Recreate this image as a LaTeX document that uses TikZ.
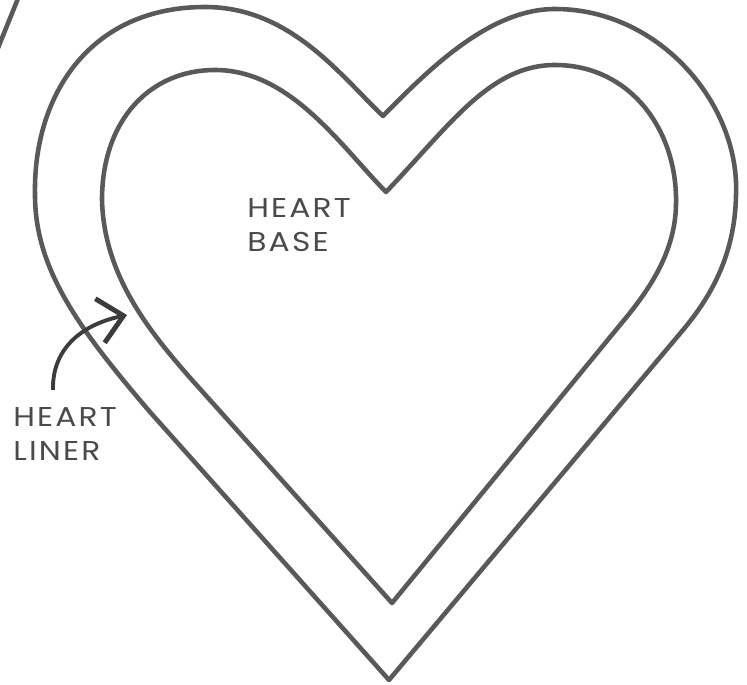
\documentclass[tikz,border=0pt]{standalone}
\usepackage{fontspec}
\setmainfont{Poppins}[LetterSpace=8, FakeStretch=1.15]
\usepackage{xcolor}
\usepackage{tikz}
\usetikzlibrary{arrows.meta}
\definecolor{outlinegray}{HTML}{58595B}
\definecolor{labelgray}{HTML}{4A4A4A}
\definecolor{arrowgray}{HTML}{3C3C3C}

\begin{document}
\begin{tikzpicture}[
  x=0.02cm, y=-0.02cm,
  outline/.style={draw=outlinegray, line width=2.6pt, line join=round, line cap=round},
  labeltext/.style={align=left, inner sep=0pt, text=labelgray, font=\fontsize{15.5}{19.8}\selectfont},
  pointer/.style={draw=arrowgray, line width=2.2pt, -{Straight Barb[length=4.8mm, width=9mm, line width=2.8pt]}}
]
  \useasboundingbox (0,0) rectangle (747,685);

  \draw[outline] (-2,48) -- (19,-4);

  \draw[outline] (383,116) .. controls (430,68) and (490,9) .. (555,9)
    .. controls (660,9) and (740,105) .. (736,195)
    .. controls (735,258) and (708,300) .. (683,330)
    -- (389,680) -- (150,412)
    .. controls (80,330) and (35,270) .. (35,195)
    .. controls (33,95) and (90,7) .. (205,7)
    .. controls (290,7) and (340,75) .. cycle;

  \draw[outline] (386,192) .. controls (450,125) and (490,65) .. (555,65)
    .. controls (630,65) and (678,130) .. (676,205)
    .. controls (675,255) and (646,294) .. (620,325)
    -- (392,603) -- (192,380)
    .. controls (148,330) and (104,275) .. (102,200)
    .. controls (102,120) and (150,70) .. (215,70)
    .. controls (290,70) and (340,145) .. cycle;

  \node[labeltext, anchor=base west] (base) at (247,252) {HEART\\BASE};
  \node[labeltext, anchor=base west] (liner) at (13,461) {HEART\\LINER};

  \coordinate (tail) at (53,390);
  \coordinate (edge) at (127,315);
  \draw[pointer] (tail) .. controls (52,350) and (80,325) .. (edge);
\end{tikzpicture}
\end{document}
